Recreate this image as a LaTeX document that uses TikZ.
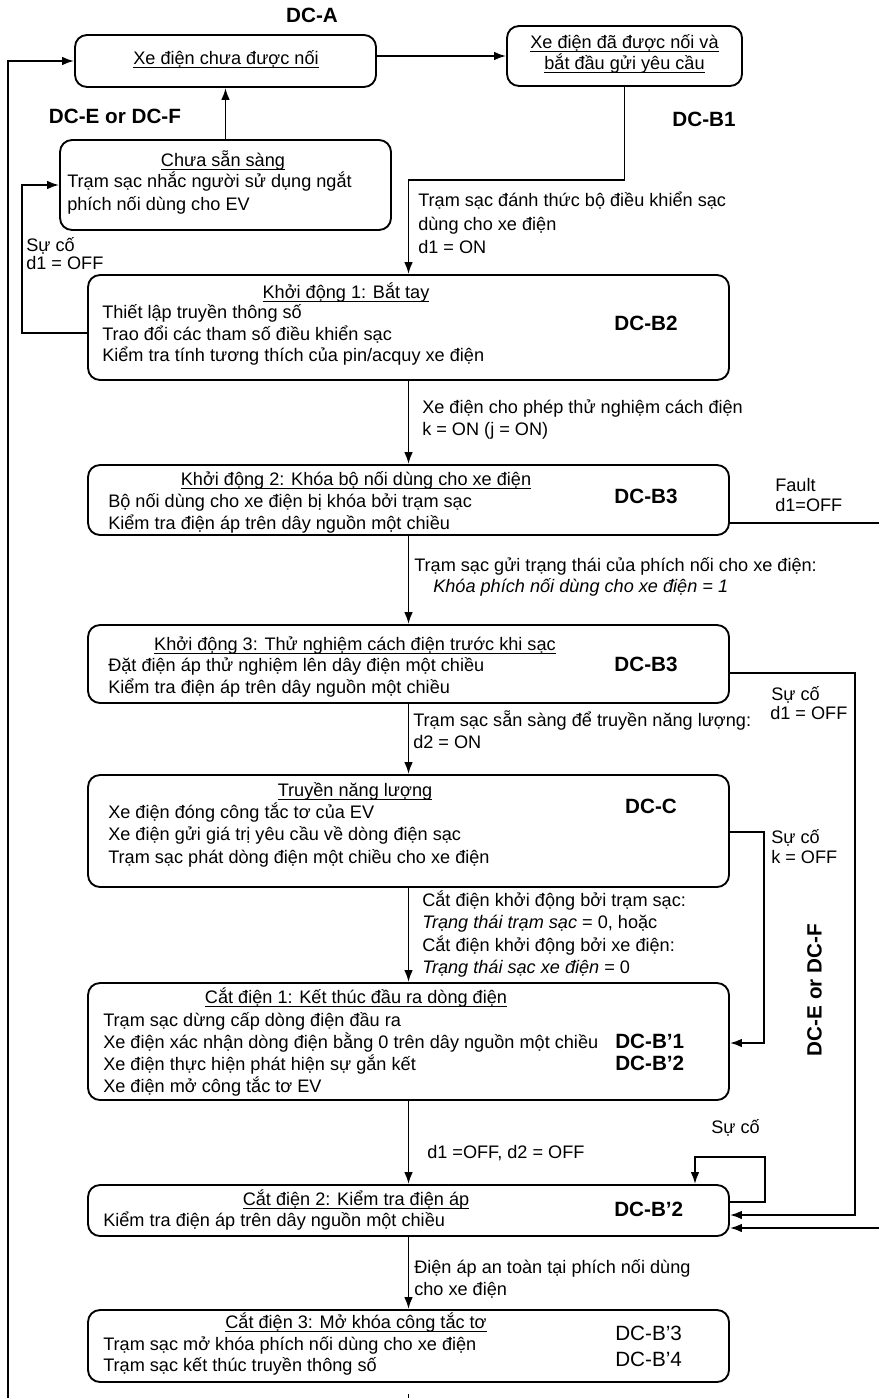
\documentclass[tikz,border=0pt]{standalone}
\usepackage{fontspec}
\setmainfont{Liberation Sans}
\usetikzlibrary{arrows.meta}
\newcommand\uln[1]{\setbox0\hbox{#1}\rlap{\rule[-2.5pt]{\wd0}{0.6pt}}\box0}
\begin{document}
\begin{tikzpicture}[x=0.75pt,y=-0.75pt,
 box/.style={draw,line width=1.4pt,rounded corners=9pt,inner sep=0pt},
 t/.style={inner sep=0pt,anchor=mid west,font=\fontsize{13.6}{16}\selectfont},
 tc/.style={t,anchor=mid},
 ti/.style={t,font=\fontsize{13.6}{16}\selectfont\itshape},
 dc/.style={inner sep=0pt,anchor=mid,font=\fontsize{15.5}{18}\selectfont\bfseries},
 dcw/.style={dc,anchor=mid west},
 dcr/.style={inner sep=0pt,anchor=mid west,font=\fontsize{15.5}{18}\selectfont},
 ln/.style={line width=1.4pt},
 arr/.style={ln,-{Latex[length=9pt,width=6.5pt]}}]
\fill[white] (0,0) rectangle (878,1398);
\useasboundingbox (0,0) rectangle (878,1398);

% boxes
\node[box,minimum width=225.75pt,minimum height=39pt] (A) at (225.5,61) {};
\node[box,minimum width=176.25pt,minimum height=45pt] (B1) at (624.5,56) {};
\node[box,minimum width=248.25pt,minimum height=67.5pt] (NR) at (225.5,185) {};
\node[box,minimum width=480.75pt,minimum height=78.75pt] (K1) at (408.5,327.5) {};
\node[box,minimum width=480.75pt,minimum height=52.5pt] (K2) at (408.5,500) {};
\node[box,minimum width=480.75pt,minimum height=58.5pt] (K3) at (408.5,664) {};
\node[box,minimum width=480.75pt,minimum height=84pt] (T) at (408.5,831) {};
\node[box,minimum width=480.75pt,minimum height=87.75pt] (C1) at (408.5,1041.5) {};
\node[box,minimum width=480.75pt,minimum height=38.25pt] (C2) at (408.5,1210.5) {};
\node[box,minimum width=480.75pt,minimum height=54pt] (C3) at (408.5,1346) {};

% DC labels
\node[dc] (dca) at (312,19) {DC-A};
\node[dc] (dcef) at (115,120) {DC-E or DC-F};
\node[dc] (dcb1) at (704,123) {DC-B1};
\node[dc] (dcb2) at (646,327) {DC-B2};
\node[dc] (dcb3a) at (646,500) {DC-B3};
\node[dc] (dcb3b) at (646,668) {DC-B3};
\node[dc] (dcc) at (651,810) {DC-C};
\node[dcw] (dcbp1) at (615,1045) {DC-B’1};
\node[dcw] (dcbp2) at (615,1067) {DC-B’2};
\node[dcw] (dcbp2b) at (614,1213) {DC-B’2};
\node[dcr] (dcbp3) at (615,1337) {DC-B’3};
\node[dcr] (dcbp4) at (615,1363) {DC-B’4};
\node[dc,rotate=90] (dcefv) at (818,990) {DC-E or DC-F};

% box texts
\node[tc] (at) at (226,61) {\uln{Xe điện chưa được nối}};
\node[tc] (b1t1) at (624.5,45) {\uln{Xe điện đã được nối và}};
\node[tc] (b1t2) at (624.5,66) {\uln{bắt đầu gửi yêu cầu}};

\node[tc] (nrt) at (223,163) {\uln{Chưa sẵn sàng}};
\node[t] (nr1) at (67,184) {Trạm sạc nhắc người sử dụng ngắt};
\node[t] (nr2) at (67,207) {phích nối dùng cho EV};

\node[tc] (k1t) at (346,295) {\uln{Khởi động 1: Bắt tay}};
\node[t] (k1a) at (102,315) {Thiết lập truyền thông số};
\node[t] (k1b) at (102,337) {Trao đổi các tham số điều khiển sạc};
\node[t] (k1c) at (102,358) {Kiểm tra tính tương thích của pin/acquy xe điện};

\node[tc] (k2t) at (356,482) {\uln{Khởi động 2: Khóa bộ nối dùng cho xe điện}};
\node[t] (k2a) at (108,504) {Bộ nối dùng cho xe điện bị khóa bởi trạm sạc};
\node[t] (k2b) at (108,526) {Kiểm tra điện áp trên dây nguồn một chiều};

\node[tc] (k3t) at (355,647) {\uln{Khởi động 3: Thử nghiệm cách điện trước khi sạc}};
\node[t] (k3a) at (108,668) {Đặt điện áp thử nghiệm lên dây điện một chiều};
\node[t] (k3b) at (108,690) {Kiểm tra điện áp trên dây nguồn một chiều};

\node[tc] (tt) at (355,793) {\uln{Truyền năng lượng}};
\node[t] (ta) at (108,815) {Xe điện đóng công tắc tơ của EV};
\node[t] (tb) at (108,837) {Xe điện gửi giá trị yêu cầu về dòng điện sạc};
\node[t] (tc) at (108,860) {Trạm sạc phát dòng điện một chiều cho xe điện};

\node[tc] (c1t) at (356,1000) {\uln{Cắt điện 1: Kết thúc đầu ra dòng điện}};
\node[t] (c1a) at (103,1023) {Trạm sạc dừng cấp dòng điện đầu ra};
\node[t] (c1b) at (103,1045) {Xe điện xác nhận dòng điện bằng 0 trên dây nguồn một chiều};
\node[t] (c1c) at (103,1067) {Xe điện thực hiện phát hiện sự gắn kết};
\node[t] (c1d) at (103,1089) {Xe điện mở công tắc tơ EV};

\node[tc] (c2t) at (356,1202) {\uln{Cắt điện 2: Kiểm tra điện áp}};
\node[t] (c2a) at (103,1223) {Kiểm tra điện áp trên dây nguồn một chiều};

\node[tc] (c3t) at (356,1325) {\uln{Cắt điện 3: Mở khóa công tắc tơ}};
\node[t] (c3a) at (103,1347) {Trạm sạc mở khóa phích nối dùng cho xe điện};
\node[t] (c3b) at (103,1368) {Trạm sạc kết thúc truyền thông số};

% edge labels
\node[t] (l1a) at (418,203) {Trạm sạc đánh thức bộ điều khiển sạc};
\node[t] (l1b) at (418,227) {dùng cho xe điện};
\node[t] (l1c) at (418,250) {d1 = ON};
\node[t] (l2a) at (26,248) {Sự cố};
\node[t] (l2b) at (26,266) {d1 = OFF};
\node[t] (l3a) at (422,410) {Xe điện cho phép thử nghiệm cách điện};
\node[t] (l3b) at (422,432) {k = ON (j = ON)};
\node[t] (l4a) at (775,488) {Fault};
\node[t] (l4b) at (775,508) {d1=OFF};
\node[t] (l5a) at (414,568) {Trạm sạc gửi trạng thái của phích nối cho xe điện:};
\node[ti] (l5b) at (433,589) {Khóa phích nối dùng cho xe điện = 1};
\node[t] (l6a) at (771,697) {Sự cố};
\node[t] (l6b) at (770,716) {d1 = OFF};
\node[t] (l7a) at (413,723) {Trạm sạc sẵn sàng để truyền năng lượng:};
\node[t] (l7b) at (413,745) {d2 = ON};
\node[t] (l8a) at (771,840) {Sự cố};
\node[t] (l8b) at (771,860) {k = OFF};
\node[t] (l9a) at (422,903) {Cắt điện khởi động bởi trạm sạc:};
\node[t] (l9b) at (422,925) {\textit{Trạng thái trạm sạc} = 0, hoặc};
\node[t] (l9c) at (422,948) {Cắt điện khởi động bởi xe điện:};
\node[t] (l9d) at (422,970) {\textit{Trạng thái sạc xe điện} = 0};
\node[t] (l10) at (711,1130) {Sự cố};
\node[t] (l11) at (427,1155) {d1 =OFF, d2 = OFF};
\node[t] (l12a) at (414,1270) {Điện áp an toàn tại phích nối dùng};
\node[t] (l12b) at (414,1292) {cho xe điện};

% free-end coordinates
\coordinate (lb) at (8,1420);
\coordinate (bt) at (408.5,1420);
\coordinate (rf) at (900,523);

% connectors
\draw[arr] (A.east |- B1.west) -- (B1.west);
\draw[arr] (lb) |- (A.west);
\draw[arr] (NR.north) -- (A.south);
\draw[arr] (B1.south) -- ++(0,93) -| (K1.north);
\draw[arr] (K1.west |- 0,333) -- ++(-65,0) |- (NR.west);
\draw[arr] (K1.south) -- (K2.north);
\draw[arr] (K2.south) -- (K3.north);
\draw[arr] (K3.south) -- (T.north);
\draw[arr] (T.south) -- (C1.north);
\draw[arr] (C1.south) -- (C2.north);
\draw[arr] (C2.south) -- (C3.north);
\draw[ln] ([yshift=-8pt]C3.south) -- (bt);
\draw[arr] (K2.east |- rf) -- (rf) |- (C2.east |- 0,1228);
\draw[arr] (K3.east |- 0,673) -| (855,1215) -- (C2.east |- 0,1215);
\draw[arr] (T.east |- 0,832) -| (764,1043) -- (C1.east |- 0,1043);
\draw[arr] (C2.east |- 0,1202) -| (765,1157) -| (C2.north -| 695,0);
\end{tikzpicture}
\end{document}
